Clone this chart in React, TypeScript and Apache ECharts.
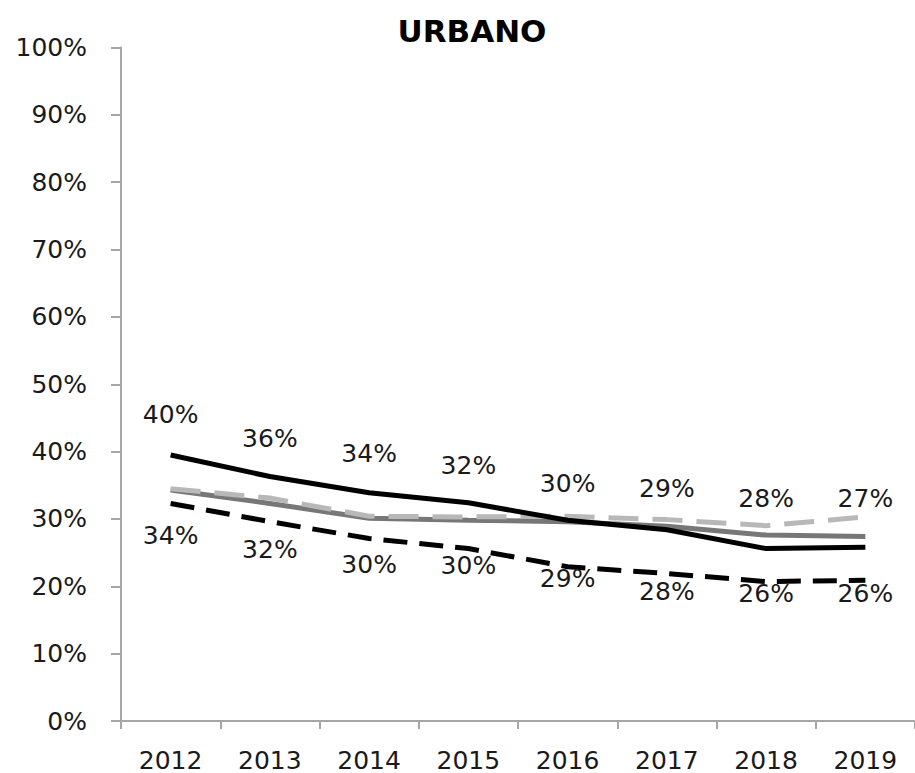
import React, { useEffect, useRef } from "react";
import * as echarts from "echarts";

const years = ["2012", "2013", "2014", "2015", "2016", "2017", "2018", "2019"];
const solidBlack = [39.5, 36.3, 33.9, 32.4, 29.8, 28.4, 25.6, 25.8];
const solidGray = [34.3, 32.3, 30.1, 29.8, 29.6, 28.9, 27.6, 27.4];
const dashedLightGray = [34.5, 33.1, 30.4, 30.3, 30.4, 29.9, 29.0, 30.3];
const dashedBlack = [32.3, 29.6, 27.1, 25.6, 22.9, 21.9, 20.7, 20.9];
const upperLabels = ["40%", "36%", "34%", "32%", "30%", "29%", "28%", "27%"];
const lowerLabels = ["34%", "32%", "30%", "30%", "29%", "28%", "26%", "26%"];
const yTicks = [0, 10, 20, 30, 40, 50, 60, 70, 80, 90, 100];

// label vertical offsets (px) relative to the line point they hang from
const upperLabelDy = [-40, -38, -39, -37, -37, -41, -50, -49];
const lowerLabelDy = [32, 28, 26, 17, 12, 18, 12, 13];

const FONT = "DejaVu Sans";

function labelled(values: number[], labels: string[], dy: number[]) {
  return values.map((v, i) => ({
    value: v,
    label: {
      show: true,
      position: "inside",
      offset: [0, dy[i]],
      formatter: labels[i],
      color: "#1a1a1a",
      fontSize: 25,
      lineHeight: 25,
      fontFamily: FONT,
    },
  }));
}

export default function App() {
  const ref = useRef<HTMLDivElement>(null);
  useEffect(() => {
    if (!ref.current) return;
    const chart = echarts.init(ref.current, undefined, { renderer: "svg" });
    const lineBase = {
      type: "line",
      symbol: "circle",
      symbolSize: 0,
      showSymbol: true,
      itemStyle: { color: "transparent" },
      smooth: false,
      z: 2,
    };
    chart.setOption({
      animation: false,
      backgroundColor: "#ffffff",
      title: {
        text: "URBANO",
        left: 467,
        textAlign: "center",
        top: 10,
        textStyle: {
          fontFamily: FONT,
          fontSize: 31,
          lineHeight: 31,
          fontWeight: "bold",
          color: "#000",
        },
      },
      grid: { left: 121, top: 47.5, bottom: 52, right: -6, containLabel: false },
      xAxis: {
        type: "category",
        data: years,
        boundaryGap: true,
        axisLine: { lineStyle: { color: "#a6a6a6", width: 2 } },
        axisTick: { show: true, length: 8, lineStyle: { color: "#a6a6a6", width: 2 } },
        axisLabel: {
          fontFamily: FONT,
          fontSize: 25,
          lineHeight: 24,
          color: "#1a1a1a",
          margin: 27,
        },
        splitLine: { show: false },
      },
      yAxis: {
        type: "value",
        min: yTicks[0],
        max: yTicks[yTicks.length - 1],
        interval: 10,
        axisLine: { show: true, lineStyle: { color: "#a6a6a6", width: 2 } },
        axisTick: { show: true, length: 10, lineStyle: { color: "#a6a6a6", width: 2 } },
        axisLabel: {
          fontFamily: FONT,
          fontSize: 25,
          lineHeight: 25,
          color: "#1a1a1a",
          margin: 34,
          formatter: "{value}%",
        },
        splitLine: { show: false },
      },
      series: [
        {
          ...lineBase,
          name: "gray",
          data: solidGray,
          lineStyle: { color: "#777777", width: 5 },
        },
        {
          ...lineBase,
          name: "lightgray",
          data: dashedLightGray,
          lineStyle: { color: "#b8b8b8", width: 5, type: [30, 14] },
        },
        {
          ...lineBase,
          name: "black",
          data: labelled(solidBlack, upperLabels, upperLabelDy),
          lineStyle: { color: "#000000", width: 5 },
        },
        {
          ...lineBase,
          name: "blackdashed",
          data: labelled(dashedBlack, lowerLabels, lowerLabelDy),
          lineStyle: { color: "#000000", width: 5, type: [24, 12] },
        },
      ],
    });
    return () => chart.dispose();
  }, []);
  return (
    <div
      ref={ref}
      style={{ position: "fixed", left: 0, top: 0, width: 915, height: 773, background: "#fff" }}
    />
  );
}
